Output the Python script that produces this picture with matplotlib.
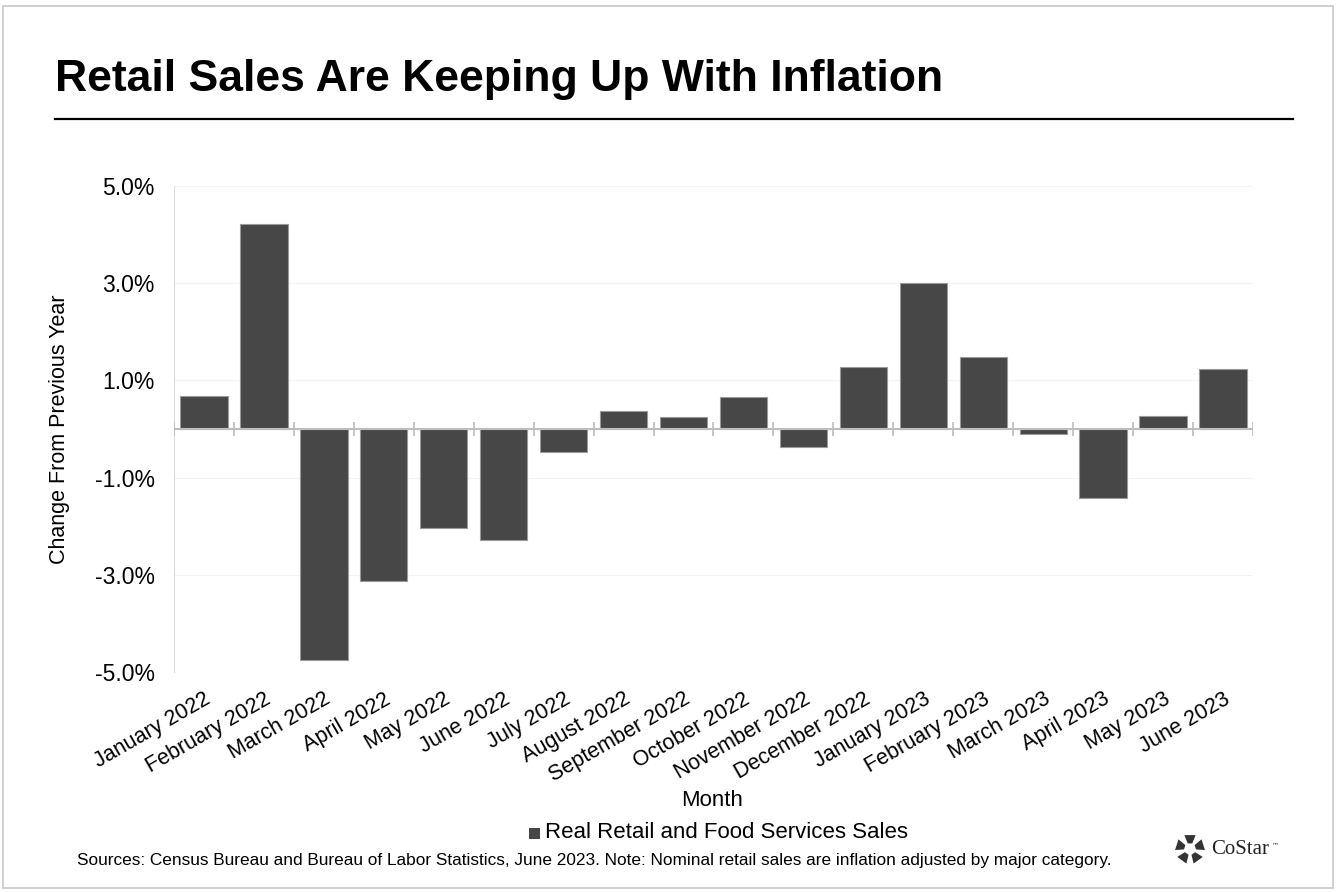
import matplotlib
matplotlib.use("Agg")
import matplotlib.pyplot as plt
from matplotlib.patches import Rectangle, Polygon
import numpy as np

plt.rcParams['font.family'] = ['Liberation Sans', 'DejaVu Sans']

months = ["January 2022", "February 2022", "March 2022", "April 2022", "May 2022",
          "June 2022", "July 2022", "August 2022", "September 2022", "October 2022",
          "November 2022", "December 2022", "January 2023", "February 2023",
          "March 2023", "April 2023", "May 2023", "June 2023"]
sales_change = [0.67, 4.22, -4.76, -3.12, -2.03, -2.29, -0.47, 0.38, 0.24, 0.66,
                -0.38, 1.28, 3.00, 1.49, -0.10, -1.42, 0.26, 1.24]
yticks = [-5.0, -3.0, -1.0, 1.0, 3.0, 5.0]

W, H = 1343, 892
fig = plt.figure(figsize=(W / 100, H / 100), dpi=100)
fig.patch.set_facecolor('white')

# outer frame
fig.patches.append(Rectangle((3 / W, 1 - 888 / H), 1330 / W, 882 / H, transform=fig.transFigure,
                             fill=False, edgecolor='#c8c8c8', linewidth=1.2))

# title and rule
fig.text(55 / W, 1 - 80 / H, "Retail Sales Are Keeping Up With Inflation", fontsize=32,
         fontweight='bold', va='center', ha='left', color='black')
fig.add_artist(plt.Line2D([55 / W, 1293 / W], [1 - 119 / H, 1 - 119 / H], transform=fig.transFigure,
                          color='black', linewidth=1.6))

ax = fig.add_axes([174 / W, 1 - 672 / H, (1253 - 174) / W, (672 - 186) / H])
x = np.arange(len(months))
ax.bar(x, sales_change, width=0.79, color='#474747', edgecolor='#9a9a9a', linewidth=0.8, zorder=3)

ax.set_xlim(-0.5, len(months) - 0.5)
ax.set_ylim(-5, 5)
ax.set_yticks(yticks)
ax.set_yticklabels([f"{v:.1f}%" for v in yticks], fontsize=16.5)
ax.tick_params(axis='y', length=0, pad=14)
for v in yticks:
    ax.axhline(v, color='#f3f3f3', linewidth=0.8, zorder=0)

# zero line with category-boundary ticks
ax.axhline(0, color='#bdbdbd', linewidth=1.5, zorder=4)
bounds = np.arange(len(months) + 1) - 0.5
ax.vlines(bounds, -0.14, 0.14, color='#bdbdbd', linewidth=1.2, zorder=4)

ax.set_xticks(x)
ax.set_xticklabels(months, rotation=30, ha='right', rotation_mode='anchor', fontsize=15.5)
ax.tick_params(axis='x', length=0, pad=12)

for s in ['top', 'right', 'bottom']:
    ax.spines[s].set_visible(False)
ax.spines['left'].set_color('#dcdcdc')
ax.spines['left'].set_linewidth(0.8)

ax.set_ylabel("Change From Previous Year", fontsize=15.5, labelpad=18)

fig.text(712 / W, 1 - 800 / H, "Month", fontsize=16, ha='center', va='center')

# legend
fig.patches.append(Rectangle((529 / W, 1 - 839 / H), 11 / W, 11 / H, transform=fig.transFigure,
                             facecolor='#474747', edgecolor='none'))
fig.text(545 / W, 1 - 832 / H, "Real Retail and Food Services Sales", fontsize=16,
         ha='left', va='center')

fig.text(77 / W, 1 - 861 / H,
         "Sources: Census Bureau and Bureau of Labor Statistics, June 2023. Note: Nominal retail sales are inflation adjusted by major category.",
         fontsize=12.4, ha='left', va='center')

# CoStar logo
cx, cy, r1, r2 = 1190, 849, 6, 15
for k in range(5):
    a0 = np.deg2rad(90 + k * 72 - 22)
    a1 = np.deg2rad(90 + k * 72 + 22)
    pts = [(cx + r1 * np.cos(a0), cy - r1 * np.sin(a0)), (cx + r2 * np.cos(a0), cy - r2 * np.sin(a0)),
           (cx + r2 * np.cos(a1), cy - r2 * np.sin(a1)), (cx + r1 * np.cos(a1), cy - r1 * np.sin(a1))]
    pts = [(px / W, 1 - py / H) for px, py in pts]
    fig.patches.append(Polygon(pts, closed=True, transform=fig.transFigure,
                               facecolor='#333333', edgecolor='none'))
fig.text(1211 / W, 1 - 850 / H, "CoStar", fontsize=15, family='Liberation Serif',
         ha='left', va='center', color='#222222')
fig.text(1272 / W, 1 - 845 / H, "™", fontsize=5, family='DejaVu Sans',
         ha='left', va='center', color='#222222')

fig.savefig("out.png", dpi=100, facecolor='white')
